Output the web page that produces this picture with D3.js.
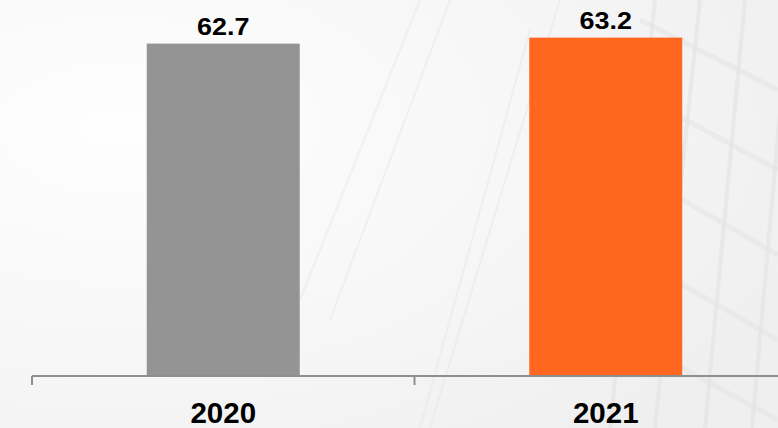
<!DOCTYPE html>
<html>
<head>
<meta charset="utf-8">
<script src="https://cdn.jsdelivr.net/npm/d3@7"></script>
<style>
  html, body { margin: 0; padding: 0; background: #fafafa; }
  svg { display: block; }
</style>
</head>
<body>
<div id="chart"></div>
<script>
// ---- data ----
const categories = ["2020", "2021"];
const values = [62.7, 63.2];
const barColors = ["#949494", "#ff6720"];
const yDomain = [35, 65];

const W = 778, H = 428;
const svg = d3.select("#chart").append("svg")
  .attr("width", W).attr("height", H);

// ---- background (faint building photo impression) ----
const defs = svg.append("defs");
const grad = defs.append("radialGradient").attr("id", "bg")
  .attr("cx", "0.15").attr("cy", "0.3").attr("r", "0.95");
grad.append("stop").attr("offset", "0").attr("stop-color", "#fefefe");
grad.append("stop").attr("offset", "0.6").attr("stop-color", "#f6f6f6");
grad.append("stop").attr("offset", "1").attr("stop-color", "#efefef");
svg.append("rect").attr("width", W).attr("height", H).attr("fill", "url(#bg)");

const deco = svg.append("g").attr("stroke", "#e4e4e4").attr("fill", "none");
// near-vertical window mullions on the right
[[700, 0, 655, 428], [745, 0, 705, 428], [790, 0, 752, 428], [655, 0, 610, 428]].forEach(l =>
  deco.append("line").attr("x1", l[0]).attr("y1", l[1]).attr("x2", l[2]).attr("y2", l[3])
    .attr("stroke-width", 4).attr("opacity", 0.7));
// slanted floor lines
[[640, 20, 778, 90], [640, 95, 778, 170], [640, 175, 778, 255], [640, 260, 778, 340], [640, 345, 778, 420]].forEach(l =>
  deco.append("line").attr("x1", l[0]).attr("y1", l[1]).attr("x2", l[2]).attr("y2", l[3])
    .attr("stroke-width", 5).attr("opacity", 0.55));
// faint diagonal streaks in the middle
[[420, 0, 300, 300], [450, 0, 330, 320], [560, 0, 430, 428], [530, 30, 420, 428]].forEach(l =>
  deco.append("line").attr("x1", l[0]).attr("y1", l[1]).attr("x2", l[2]).attr("y2", l[3])
    .attr("stroke-width", 2).attr("opacity", 0.45));

// ---- scales ----
const x = d3.scaleBand().domain(categories).range([32, 797]).padding(0);
const y = d3.scaleLinear().domain(yDomain).range([376, 16]);
const barW = x.bandwidth() * 0.4;

// ---- bars ----
svg.append("g").selectAll("rect").data(values).join("rect")
  .attr("x", (d, i) => x(categories[i]) + (x.bandwidth() - barW) / 2)
  .attr("y", d => y(d))
  .attr("width", barW)
  .attr("height", d => y(yDomain[0]) - y(d))
  .attr("fill", (d, i) => barColors[i]);

// ---- value labels ----
svg.append("g").selectAll("text").data(values).join("text")
  .attr("transform", (d, i) => {
    const cx = x(categories[i]) + x.bandwidth() / 2;
    return `translate(${cx},${y(d) - 9}) scale(1.1,1)`;
  })
  .attr("text-anchor", "middle")
  .attr("font-family", "'Liberation Sans', Arial, sans-serif")
  .attr("font-weight", "bold")
  .attr("font-size", 24.5)
  .attr("fill", "#000")
  .text(d => d.toFixed(1));

// ---- x axis ----
const axisY = y(yDomain[0]);
const axis = svg.append("g").attr("stroke", "#8f8f8f").attr("stroke-width", 2);
axis.append("line")
  .attr("x1", x.range()[0]).attr("x2", x.range()[1])
  .attr("y1", axisY).attr("y2", axisY);
axis.selectAll("line.tick").data(categories).join("line").attr("class", "tick")
  .attr("x1", d => x(d)).attr("x2", d => x(d))
  .attr("y1", axisY).attr("y2", axisY + 9);

svg.append("g").selectAll("text").data(categories).join("text")
  .attr("x", d => x(d) + x.bandwidth() / 2)
  .attr("y", 423)
  .attr("text-anchor", "middle")
  .attr("font-family", "'Liberation Sans', Arial, sans-serif")
  .attr("font-weight", "bold")
  .attr("font-size", 29.5)
  .attr("fill", "#000")
  .text(d => d);
</script>
</body>
</html>
